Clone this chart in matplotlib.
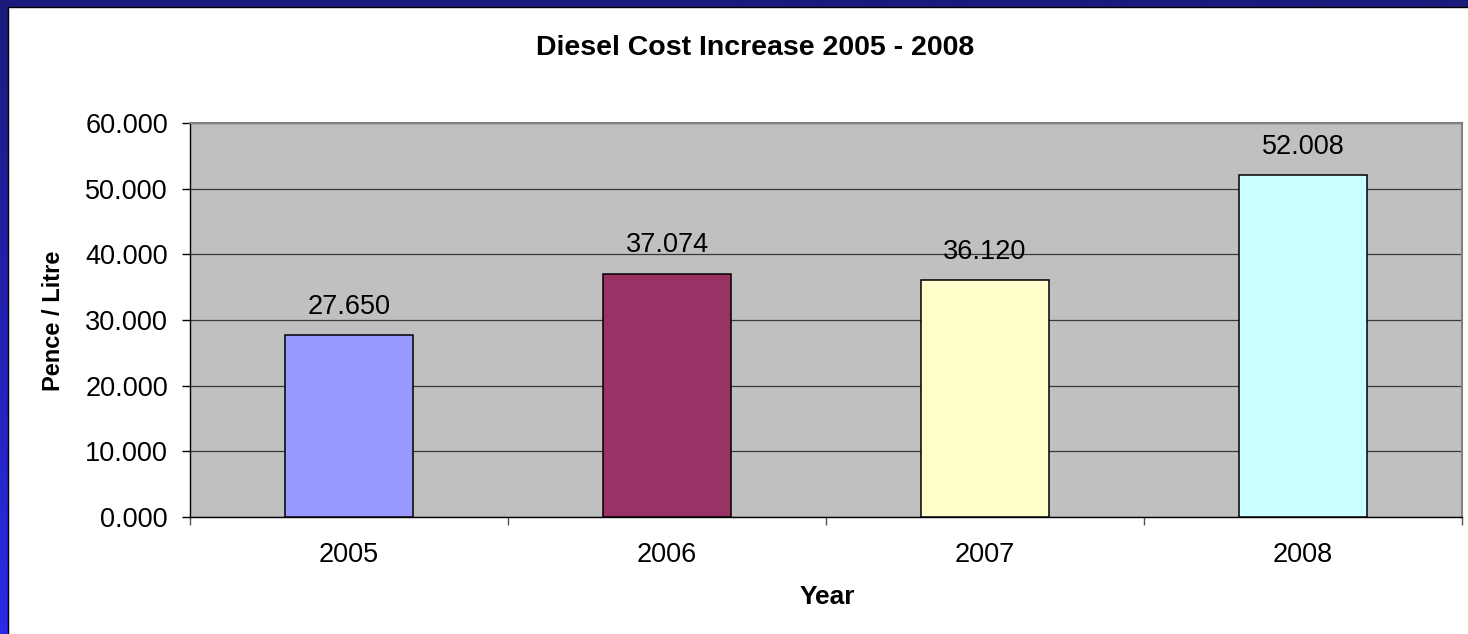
import matplotlib
matplotlib.use("Agg")
import matplotlib.pyplot as plt
import numpy as np
from matplotlib.patches import Rectangle
from matplotlib.ticker import FixedLocator, FormatStrFormatter
from matplotlib.colors import LinearSegmentedColormap

years = ["2005", "2006", "2007", "2008"]
values = [27.650, 37.074, 36.120, 52.008]
value_labels = ["27.650", "37.074", "36.120", "52.008"]
bar_colors = ["#9999FF", "#993366", "#FFFFCC", "#CCFFFF"]
title = "Diesel Cost Increase 2005 - 2008"
xlabel = "Year"
ylabel = "Pence / Litre"

W, H = 1468, 634
plt.rcParams['font.family'] = ['Liberation Sans', 'DejaVu Sans']
fig = plt.figure(figsize=(W / 100, H / 100), dpi=100)

# blue gradient background
bg = fig.add_axes([0, 0, 1, 1])
grad = np.linspace(0, 1, 256).reshape(-1, 1)
cmap = LinearSegmentedColormap.from_list("b", ["#1a1a7c", "#2a2ae8"])
bg.imshow(grad, aspect='auto', cmap=cmap, extent=[0, 1, 0, 1], origin='upper')
bg.set_xlim(0, 1); bg.set_ylim(0, 1)
bg.axis('off')
bg.add_patch(Rectangle((8 / W, -0.01), 1.01, 1 - 7 / H + 0.01, facecolor='white',
                       edgecolor='black', linewidth=1.0, transform=bg.transAxes))

ax = fig.add_axes([190 / W, 1 - 517 / H, (1462 - 190) / W, (517 - 123) / H])
ax.set_facecolor('#C0C0C0')
x = np.arange(len(years))
bars = ax.bar(x, values, width=0.405, color=bar_colors, edgecolor='black', linewidth=1.1, zorder=3)
ax.set_xlim(-0.5, len(years) - 0.5)
ax.set_ylim(0, 60)
ax.set_yticks(np.arange(0, 61, 10))
ax.yaxis.set_major_formatter(FormatStrFormatter('%.3f'))
ax.grid(axis='y', color='#3a3a3a', linewidth=0.9, zorder=1)
ax.set_axisbelow(True)

ax.set_xticks(x)
ax.set_xticklabels(years)
ax.xaxis.set_minor_locator(FixedLocator(np.arange(-0.5, len(years), 1.0)))
ax.tick_params(axis='x', which='major', length=0, pad=18, labelsize=19.5)
ax.tick_params(axis='x', which='minor', length=5.5, width=1, color='#555555', direction='out')
ax.tick_params(axis='y', which='major', length=5.8, width=1, color='black', direction='out',
               pad=10, labelsize=19.5)

for s in ['top', 'right']:
    ax.spines[s].set_color('#808080')
    ax.spines[s].set_linewidth(1.5)
for s in ['left', 'bottom']:
    ax.spines[s].set_color('black')
    ax.spines[s].set_linewidth(1.0)

for xi, v, lab in zip(x, values, value_labels):
    ax.annotate(lab, (xi, v), xytext=(0, 11), textcoords='offset points',
                ha='center', va='bottom', fontsize=19.5)

fig.text(755 / W, 1 - 48 / H, title, ha='center', va='center', fontsize=20.5, fontweight='bold')
fig.text(827 / W, 1 - 597 / H, xlabel, ha='center', va='center', fontsize=19,
         fontweight='bold')
fig.text(53 / W, 1 - 321 / H, ylabel, ha='center', va='center', rotation=90,
         fontsize=17, fontweight='bold')

fig.savefig("out.png", dpi=100)
